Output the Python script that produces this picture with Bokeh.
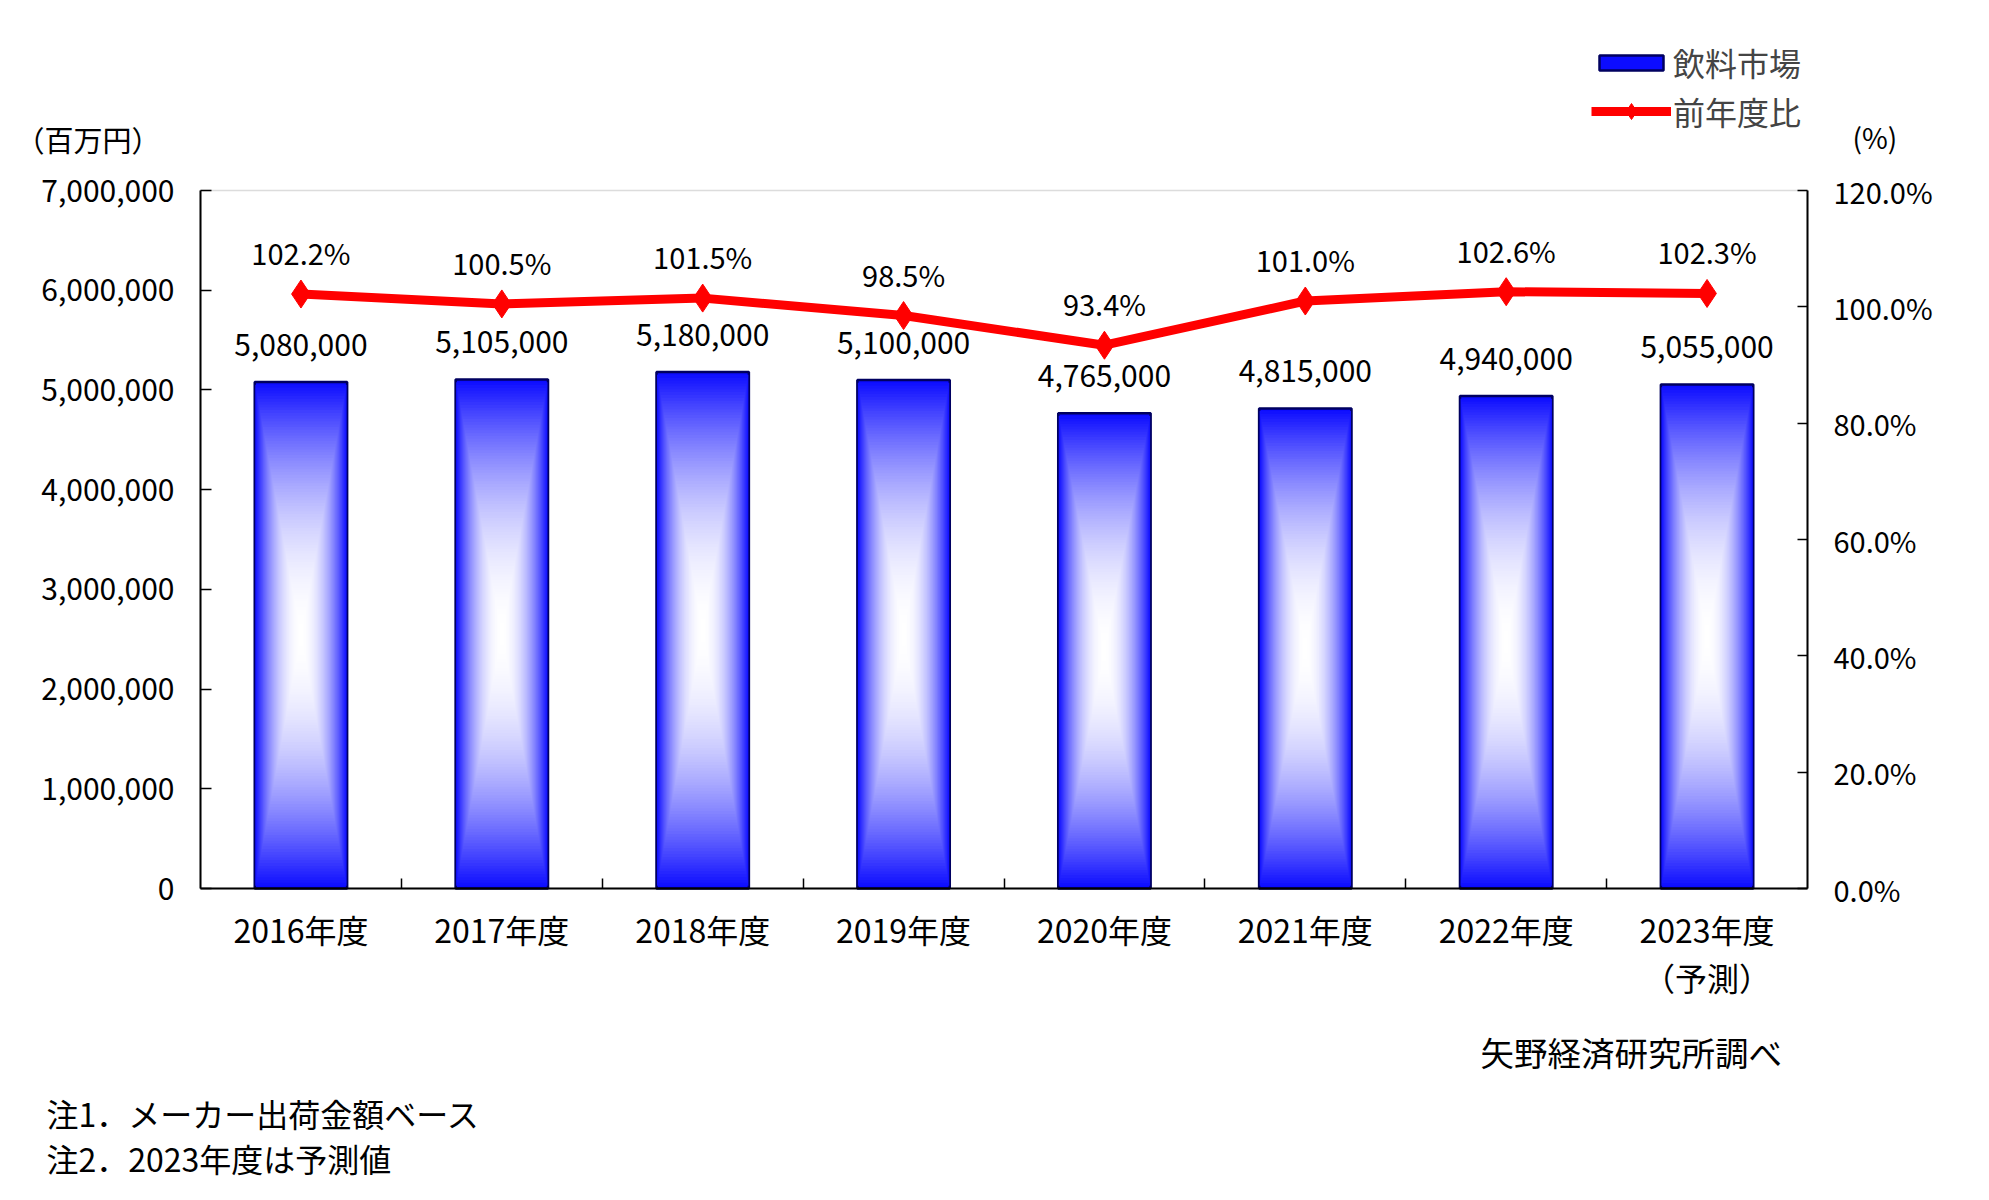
from bokeh.plotting import figure
from bokeh.models import (Range1d, LinearAxis, FixedTicker, NumeralTickFormatter,
                          PrintfTickFormatter, Label, Legend, LegendItem, ColumnDataSource,
                          BoxAnnotation)
from bokeh.core.properties import value
from bokeh.embed import file_html
from bokeh.resources import INLINE

# ---------------- data ----------------
categories = ["2016年度", "2017年度", "2018年度", "2019年度", "2020年度",
              "2021年度", "2022年度", "2023年度\n（予測）"]
market = [5080000, 5105000, 5180000, 5100000, 4765000, 4815000, 4940000, 5055000]
yoy = [102.2, 100.5, 101.5, 98.5, 93.4, 101.0, 102.6, 102.3]
left_ticks = [0, 1000000, 2000000, 3000000, 4000000, 5000000, 6000000, 7000000]
right_ticks = [0, 20, 40, 60, 80, 100, 120]
series_names = ["飲料市場", "前年度比"]
left_unit = "（百万円）"
right_unit = "(%)"
source_note = "矢野経済研究所調べ"
notes = ["注1．メーカー出荷金額ベース", "注2．2023年度は予測値"]

# ---------------- layout (pixels) ----------------
W, H = 1989, 1200
PL, PR, PT, PB = 200, 1807, 190, 888   # plot-area box on the canvas

FONT = "Noto Sans CJK JP"
BAR_W = 0.46
BLUE = (12, 12, 255)
NAVY = "#000060"
RED = "#ff0000"

n = len(categories)
xc = [i + 0.5 for i in range(n)]


def span(lo, hi, p_lo, p_hi, total, flip=False):
    """data range so that [lo, hi] lands on pixels [p_lo, p_hi] of a canvas of size total"""
    k = (hi - lo) / (p_hi - p_lo)
    if flip:
        return Range1d(lo - (total - p_hi) * k, hi + p_lo * k)
    return Range1d(lo - p_lo * k, hi + (total - p_hi) * k)


x_rng = span(0, n, PL, PR, W)
y_rng = span(left_ticks[0], left_ticks[-1], PT, PB, H, flip=True)
pct_rng = span(right_ticks[0], right_ticks[-1], PT, PB, H, flip=True)

p = figure(width=W, height=H, output_backend="svg", toolbar_location=None,
           x_range=x_rng, y_range=y_rng, min_border=0, min_border_left=0,
           min_border_right=0, min_border_top=0, min_border_bottom=0,
           x_axis_location=None, y_axis_location=None)
p.extra_y_ranges = {"pct": pct_rng}
p.xgrid.visible = False
p.ygrid.visible = False
p.background_fill_color = "white"
p.border_fill_color = "white"
p.outline_line_color = None

# plot-area border (top edge grey, others covered by the axes)
p.add_layout(BoxAnnotation(left=0, right=n, bottom=left_ticks[0], top=left_ticks[-1],
                           fill_alpha=0, line_color="#8c8c8c", line_width=1.5,
                           level="underlay"))

# ---------------- axes ----------------
xaxis = LinearAxis(ticker=FixedTicker(ticks=xc, minor_ticks=list(range(1, n))),
                   major_label_overrides={x: c for x, c in zip(xc, categories)},
                   fixed_location=left_ticks[0], bounds=(0, n))
xaxis.major_tick_in = 0
xaxis.major_tick_out = 0
xaxis.minor_tick_in = 10
xaxis.minor_tick_out = 0
xaxis.minor_tick_line_color = "black"
xaxis.minor_tick_line_width = 1.5
xaxis.axis_line_color = "black"
xaxis.axis_line_width = 2
xaxis.major_label_text_font = FONT
xaxis.major_label_text_font_size = "32px"
xaxis.major_label_text_line_height = 1.05
xaxis.major_label_standoff = 17
xaxis.major_label_text_color = "black"
p.add_layout(xaxis, "below")

yaxis = LinearAxis(ticker=FixedTicker(ticks=left_ticks, minor_ticks=[]),
                   formatter=NumeralTickFormatter(format="0,0"),
                   fixed_location=0, bounds=(left_ticks[0], left_ticks[-1]))
yaxis.major_tick_in = 11
yaxis.major_tick_out = 0
yaxis.minor_tick_in = 0
yaxis.minor_tick_out = 0
yaxis.axis_line_width = 2
yaxis.major_tick_line_width = 1.5
yaxis.major_label_text_font = FONT
yaxis.major_label_text_font_size = "30px"
yaxis.major_label_standoff = 26
yaxis.major_label_text_color = "black"
p.add_layout(yaxis, "left")

raxis = LinearAxis(y_range_name="pct", ticker=FixedTicker(ticks=right_ticks, minor_ticks=[]),
                   formatter=PrintfTickFormatter(format="%.1f%%"),
                   fixed_location=n, bounds=(right_ticks[0], right_ticks[-1]))
raxis.major_tick_in = 10
raxis.major_tick_out = 0
raxis.minor_tick_in = 0
raxis.minor_tick_out = 0
raxis.axis_line_width = 2
raxis.major_tick_line_width = 1.5
raxis.major_label_text_font = FONT
raxis.major_label_text_font_size = "29px"
raxis.major_label_standoff = 26
raxis.major_label_text_color = "black"
p.add_layout(raxis, "right")

# ---------------- bars with rectangular "from centre" gradient ----------------
outer = p.vbar(x=xc, top=market, bottom=0, width=BAR_W,
               fill_color="#%02x%02x%02x" % BLUE, line_color=NAVY, line_width=2.5)

N = 90
gx, gy, gw, gh, gc = [], [], [], [], []
for k in range(1, N):
    s = 1 - k / N
    a = s ** 2
    col = "#%02x%02x%02x" % tuple(int(round(255 * (1 - a) + c * a)) for c in BLUE)
    for xi, v in zip(xc, market):
        gx.append(xi)
        gy.append(v / 2)
        gw.append(BAR_W * s)
        gh.append(v * s)
        gc.append(col)
p.rect(x="x", y="y", width="w", height="h", fill_color="c", line_color=None,
       source=ColumnDataSource(dict(x=gx, y=gy, w=gw, h=gh, c=gc)))

p.text(x=xc, y=market, text=[f"{v:,}" for v in market], text_align="center",
       text_baseline="middle", y_offset=-37, text_font=value(FONT),
       text_font_size="30px", text_color="black")

# ---------------- YoY line ----------------
line_r = p.line(x=xc, y=yoy, y_range_name="pct", line_color=RED, line_width=9)
mark_r = p.scatter(x=xc, y=yoy, y_range_name="pct", marker="diamond", size=28,
                   fill_color=RED, line_color=RED)
p.text(x=xc, y=yoy, y_range_name="pct", text=[f"{v:.1f}%" for v in yoy],
       text_align="center", text_baseline="middle", y_offset=-42,
       text_font=value(FONT), text_font_size="29px", text_color="black")

# ---------------- legends ----------------
common = dict(orientation="vertical", padding=0, margin=0, spacing=0, glyph_width=80,
              label_height=38, label_standoff=2, label_text_font=FONT,
              label_text_font_size="32px", background_fill_alpha=0,
              border_line_color=None)
legend_bar = Legend(items=[LegendItem(label=series_names[0], renderers=[outer])],
                    location=(1591, H - 85), glyph_height=19, **common)
legend_line = Legend(items=[LegendItem(label=series_names[1], renderers=[line_r, mark_r])],
                     location=(1591, H - 134), glyph_height=40, **common)
p.add_layout(legend_bar, "center")
p.add_layout(legend_line, "center")


# ---------------- free texts ----------------
def add_label(text, x, y, size="30px", align="left"):
    # x, y: canvas pixels from the top-left corner
    p.add_layout(Label(x=x, y=H - y, x_units="screen", y_units="screen", text=text,
                       text_font=FONT, text_font_size=size, text_align=align,
                       text_baseline="middle", text_color="black"))


add_label(left_unit, 15, 138, "29px")
add_label(right_unit, 1852, 136, "28px")
add_label(source_note, 1480, 1051, "33.5px")
add_label(notes[0], 46, 1112, "32px")
add_label(notes[1], 46, 1157, "32px")

open("out.html", "w").write(file_html(p, INLINE))
